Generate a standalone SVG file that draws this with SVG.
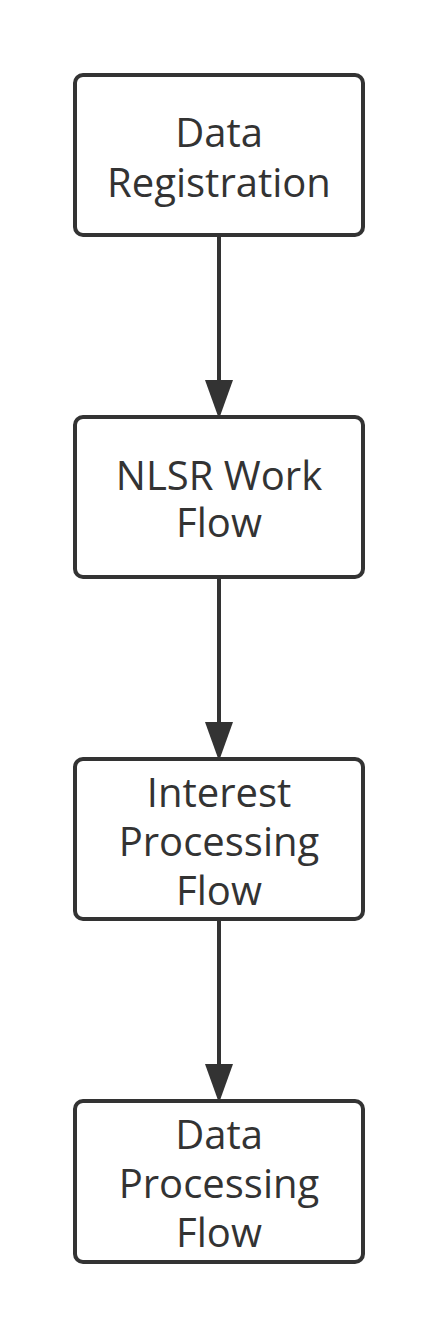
<svg xmlns="http://www.w3.org/2000/svg" width="438" height="1338" viewBox="0 0 438 1338">
<style>
.box{fill:#ffffff;stroke:#333333;stroke-width:4}
.lbl{font-family:"Open Sans","Noto Sans","Liberation Sans",sans-serif;font-size:40px;fill:#333333;text-anchor:middle}
.edge{stroke:#333333;stroke-width:4;fill:none}
.head{fill:#333333}
</style>
<rect width="438" height="1338" fill="#ffffff"/>
<g id="connectors">
<line class="edge" x1="219" y1="237" x2="219" y2="384"/>
<polygon class="head" points="205,380 233,380 219,419"/>
<line class="edge" x1="219" y1="579" x2="219" y2="726"/>
<polygon class="head" points="205,722 233,722 219,761"/>
<line class="edge" x1="219" y1="921" x2="219" y2="1068"/>
<polygon class="head" points="205,1064 233,1064 219,1103"/>
</g>
<g id="node1">
<rect class="box" x="75" y="75" width="288" height="160" rx="8"/>
<text class="lbl" x="219" y="147">Data</text>
<text class="lbl" x="219" y="196.5">Registration</text>
</g>
<g id="node2">
<rect class="box" x="75" y="417" width="288" height="160" rx="8"/>
<text class="lbl" x="219" y="489.5">NLSR Work</text>
<text class="lbl" x="219" y="537">Flow</text>
</g>
<g id="node3">
<rect class="box" x="75" y="759" width="288" height="160" rx="8"/>
<text class="lbl" x="219" y="807">Interest</text>
<text class="lbl" x="219" y="856">Processing</text>
<text class="lbl" x="219" y="905">Flow</text>
</g>
<g id="node4">
<rect class="box" x="75" y="1101" width="288" height="161" rx="8"/>
<text class="lbl" x="219" y="1149">Data</text>
<text class="lbl" x="219" y="1198">Processing</text>
<text class="lbl" x="219" y="1247">Flow</text>
</g>
</svg>
